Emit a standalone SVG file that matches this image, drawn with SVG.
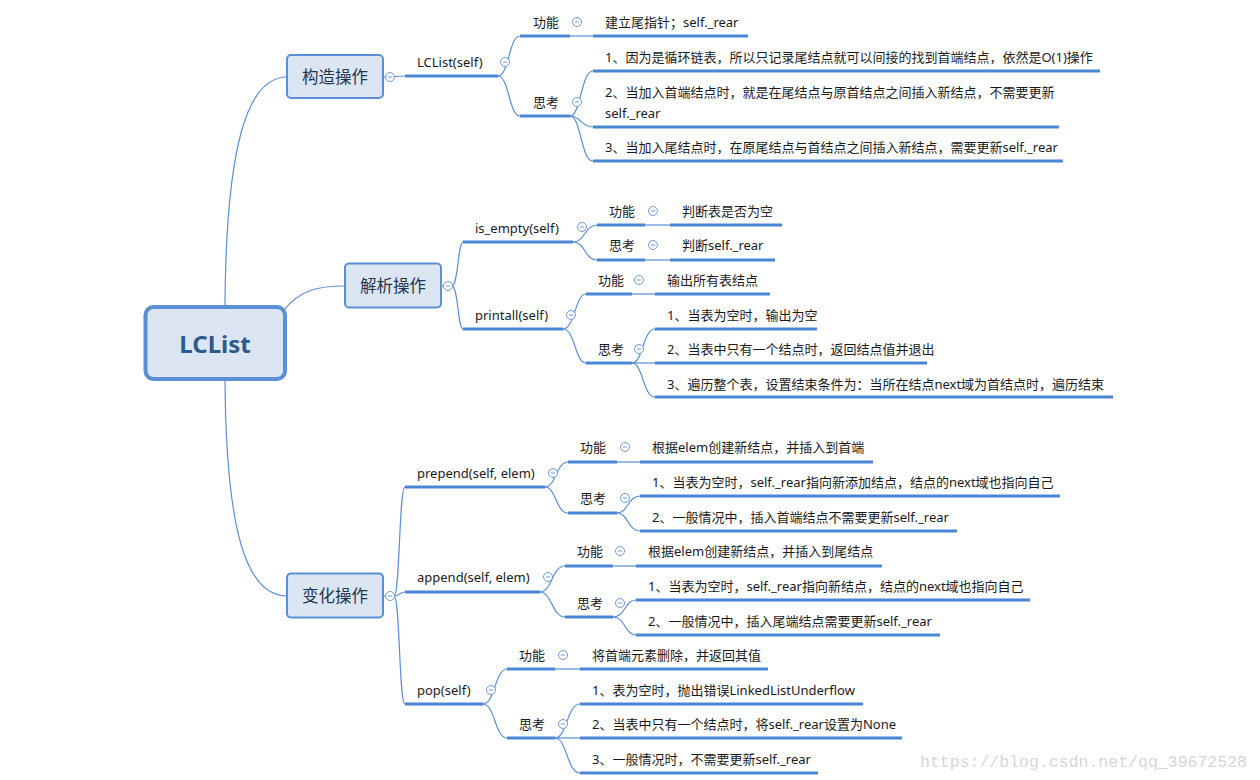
<svg xmlns="http://www.w3.org/2000/svg" width="1260" height="780" viewBox="0 0 1260 780">
<defs>
<style>
.bg{fill:#ffffff}
.c{fill:none;stroke:#5b8fd6;stroke-width:1.2}
.u{stroke:#4a86d4;stroke-width:3;stroke-linecap:butt}
.t{font-family:"Noto Sans","Noto Sans CJK SC",sans-serif;font-size:13px;fill:#1a1a1a;dominant-baseline:central}
.nt{font-family:"Noto Sans","Noto Sans CJK SC",sans-serif;font-size:16.5px;fill:#1e3550;dominant-baseline:central;text-anchor:middle}
.rt{font-family:"Noto Sans","Noto Sans CJK SC",sans-serif;font-size:24px;font-weight:bold;fill:#2d5a8c;dominant-baseline:central;text-anchor:middle}
.node{fill:#dce6f2;stroke:#5b8fd6;stroke-width:2}
.root{fill:#dce6f2;stroke:#5b8fd6;stroke-width:4}
.wm{font-family:"Liberation Mono","DejaVu Sans Mono",monospace;font-size:16px;fill:#d6d6d6}
</style>
<g id="col">
<circle r="4.5" fill="#ffffff" stroke="#6c9ad8" stroke-width="1"/>
<line x1="-2.2" y1="0" x2="2.2" y2="0" stroke="#6c9ad8" stroke-width="1"/>
</g>
</defs>
<rect class="bg" x="0" y="0" width="1260" height="780"/>

<g id="connectors">
<path class="c" d="M225,306 C226,150 246,77 287,77"/>
<path class="c" d="M284,310 C300,290 318,286 345,286"/>
<path class="c" d="M225,380 C226,530 246,596 287,596"/>
<!-- section 1 -->
<path class="c" d="M383,77 L405,76"/>
<path class="c" d="M498,76 C509,76 509,36 520,36"/>
<path class="c" d="M498,76 C509,76 509,116 520,116"/>
<path class="c" d="M570,36 L593,36"/>
<path class="c" d="M570,116 C581,116 581,71 593,71"/>
<path class="c" d="M570,116 C581,116 581,127 593,127"/>
<path class="c" d="M570,116 C581,116 581,161 593,161"/>
<!-- section 2 -->
<path class="c" d="M441,286 L452,286"/>
<path class="c" d="M452,286 C458,286 458,242 463,242"/>
<path class="c" d="M452,286 C458,286 458,329 463,329"/>
<path class="c" d="M573,242 C585,242 585,225 597,225"/>
<path class="c" d="M573,242 C585,242 585,260 597,260"/>
<path class="c" d="M645,225 L670,225"/>
<path class="c" d="M645,260 L670,260"/>
<path class="c" d="M563,329 C575,329 575,294 586,294"/>
<path class="c" d="M563,329 C575,329 575,363 586,363"/>
<path class="c" d="M632,294 L655,294"/>
<path class="c" d="M632,363 C643,363 643,329 655,329"/>
<path class="c" d="M632,363 L655,363"/>
<path class="c" d="M632,363 C643,363 643,397 655,397"/>
<!-- section 3 -->
<path class="c" d="M383,596 L394,596"/>
<path class="c" d="M394,596 C400,596 399,487 405,487"/>
<path class="c" d="M394,596 C400,596 399,592 405,592"/>
<path class="c" d="M394,596 C400,596 399,704 405,704"/>
<path class="c" d="M545,487 C556,487 556,462 568,462"/>
<path class="c" d="M545,487 C556,487 556,513 568,513"/>
<path class="c" d="M617,462 L640,462"/>
<path class="c" d="M617,513 C628,513 628,496 640,496"/>
<path class="c" d="M617,513 C628,513 628,531 640,531"/>
<path class="c" d="M540,592 C552,592 552,566 565,566"/>
<path class="c" d="M540,592 C552,592 552,617 565,617"/>
<path class="c" d="M613,566 L636,566"/>
<path class="c" d="M613,617 C625,617 625,600 636,600"/>
<path class="c" d="M613,617 C625,617 625,635 636,635"/>
<path class="c" d="M483,704 C495,704 495,669 507,669"/>
<path class="c" d="M483,704 C495,704 495,738 507,738"/>
<path class="c" d="M555,669 L580,669"/>
<path class="c" d="M555,738 C567,738 567,704 580,704"/>
<path class="c" d="M555,738 L580,738"/>
<path class="c" d="M555,738 C567,738 567,773 580,773"/>
</g>

<g id="root">
<rect class="root" x="145.5" y="307" width="139.5" height="72" rx="8"/>
<text class="rt" x="215" y="343">LCList</text>
</g>

<g id="n-gouzao">
<rect class="node" x="287" y="55" width="96" height="43" rx="4"/>
<text class="nt" x="335" y="76.5">构造操作</text>
<use href="#col" x="390" y="77"/>
</g>
<g id="n-jiexi">
<rect class="node" x="345" y="263.5" width="96" height="44" rx="4"/>
<text class="nt" x="393" y="285.5">解析操作</text>
<use href="#col" x="448" y="286"/>
</g>
<g id="n-bianhua">
<rect class="node" x="287" y="573.5" width="96" height="44" rx="4"/>
<text class="nt" x="335" y="595.5">变化操作</text>
<use href="#col" x="390" y="596"/>
</g>

<!-- section 1 -->
<g id="n-lclist-self">
<line class="u" x1="405" y1="76" x2="498" y2="76"/>
<text class="t" x="417" y="62">LCList(self)</text>
<use href="#col" x="505" y="62"/>
</g>
<g id="n-s1-gn">
<line class="u" x1="520" y1="36" x2="570" y2="36"/>
<text class="t" x="533" y="22">功能</text>
<use href="#col" x="577" y="22"/>
</g>
<g id="n-s1-gn-1">
<line class="u" x1="593" y1="36" x2="748" y2="36"/>
<text class="t" x="605" y="22">建立尾指针；self._rear</text>
</g>
<g id="n-s1-sk">
<line class="u" x1="520" y1="116" x2="570" y2="116"/>
<text class="t" x="533" y="102">思考</text>
<use href="#col" x="577" y="102"/>
</g>
<g id="n-s1-sk-1">
<line class="u" x1="593" y1="71" x2="1100" y2="71"/>
<text class="t" x="605" y="57">1、因为是循环链表，所以只记录尾结点就可以间接的找到首端结点，依然是O(1)操作</text>
</g>
<g id="n-s1-sk-2">
<line class="u" x1="593" y1="127" x2="1059" y2="127"/>
<text class="t" x="605" y="92">2、当加入首端结点时，就是在尾结点与原首结点之间插入新结点，不需要更新</text>
<text class="t" x="605" y="113">self._rear</text>
</g>
<g id="n-s1-sk-3">
<line class="u" x1="593" y1="161" x2="1063" y2="161"/>
<text class="t" x="605" y="147">3、当加入尾结点时，在原尾结点与首结点之间插入新结点，需要更新self._rear</text>
</g>

<!-- section 2 -->
<g id="n-isempty">
<line class="u" x1="463" y1="242" x2="573" y2="242"/>
<text class="t" x="475" y="228">is_empty(self)</text>
<use href="#col" x="582" y="227"/>
</g>
<g id="n-ie-gn">
<line class="u" x1="597" y1="225" x2="645" y2="225"/>
<text class="t" x="609" y="211">功能</text>
<use href="#col" x="653" y="211"/>
</g>
<g id="n-ie-gn-1">
<line class="u" x1="670" y1="225" x2="782" y2="225"/>
<text class="t" x="682" y="211">判断表是否为空</text>
</g>
<g id="n-ie-sk">
<line class="u" x1="597" y1="260" x2="645" y2="260"/>
<text class="t" x="609" y="245">思考</text>
<use href="#col" x="653" y="245"/>
</g>
<g id="n-ie-sk-1">
<line class="u" x1="670" y1="260" x2="775" y2="260"/>
<text class="t" x="682" y="245">判断self._rear</text>
</g>
<g id="n-printall">
<line class="u" x1="463" y1="329" x2="563" y2="329"/>
<text class="t" x="475" y="315">printall(self)</text>
<use href="#col" x="571" y="315"/>
</g>
<g id="n-pa-gn">
<line class="u" x1="586" y1="294" x2="632" y2="294"/>
<text class="t" x="598" y="280">功能</text>
<use href="#col" x="639" y="280"/>
</g>
<g id="n-pa-gn-1">
<line class="u" x1="655" y1="294" x2="770" y2="294"/>
<text class="t" x="667" y="280">输出所有表结点</text>
</g>
<g id="n-pa-sk">
<line class="u" x1="586" y1="363" x2="632" y2="363"/>
<text class="t" x="598" y="349">思考</text>
<use href="#col" x="639" y="349"/>
</g>
<g id="n-pa-sk-1">
<line class="u" x1="655" y1="329" x2="817" y2="329"/>
<text class="t" x="667" y="315">1、当表为空时，输出为空</text>
</g>
<g id="n-pa-sk-2">
<line class="u" x1="655" y1="363" x2="927" y2="363"/>
<text class="t" x="667" y="349">2、当表中只有一个结点时，返回结点值并退出</text>
</g>
<g id="n-pa-sk-3">
<line class="u" x1="655" y1="397" x2="1113" y2="397"/>
<text class="t" x="667" y="384">3、遍历整个表，设置结束条件为：当所在结点next域为首结点时，遍历结束</text>
</g>

<!-- section 3 -->
<g id="n-prepend">
<line class="u" x1="405" y1="487" x2="545" y2="487"/>
<text class="t" x="417" y="473">prepend(self, elem)</text>
<use href="#col" x="553" y="473"/>
</g>
<g id="n-pp-gn">
<line class="u" x1="568" y1="462" x2="617" y2="462"/>
<text class="t" x="580" y="447">功能</text>
<use href="#col" x="625" y="447"/>
</g>
<g id="n-pp-gn-1">
<line class="u" x1="640" y1="462" x2="873" y2="462"/>
<text class="t" x="652" y="447">根据elem创建新结点，并插入到首端</text>
</g>
<g id="n-pp-sk">
<line class="u" x1="568" y1="513" x2="617" y2="513"/>
<text class="t" x="580" y="498">思考</text>
<use href="#col" x="625" y="498"/>
</g>
<g id="n-pp-sk-1">
<line class="u" x1="640" y1="496" x2="1060" y2="496"/>
<text class="t" x="652" y="482">1、当表为空时，self._rear指向新添加结点，结点的next域也指向自己</text>
</g>
<g id="n-pp-sk-2">
<line class="u" x1="640" y1="531" x2="957" y2="531"/>
<text class="t" x="652" y="517">2、一般情况中，插入首端结点不需要更新self._rear</text>
</g>
<g id="n-append">
<line class="u" x1="405" y1="592" x2="540" y2="592"/>
<text class="t" x="417" y="577">append(self, elem)</text>
<use href="#col" x="548" y="577"/>
</g>
<g id="n-ap-gn">
<line class="u" x1="565" y1="566" x2="613" y2="566"/>
<text class="t" x="577" y="551">功能</text>
<use href="#col" x="620" y="551"/>
</g>
<g id="n-ap-gn-1">
<line class="u" x1="636" y1="566" x2="882" y2="566"/>
<text class="t" x="648" y="551">根据elem创建新结点，并插入到尾结点</text>
</g>
<g id="n-ap-sk">
<line class="u" x1="565" y1="617" x2="613" y2="617"/>
<text class="t" x="577" y="603">思考</text>
<use href="#col" x="620" y="603"/>
</g>
<g id="n-ap-sk-1">
<line class="u" x1="636" y1="600" x2="1030" y2="600"/>
<text class="t" x="648" y="586">1、当表为空时，self._rear指向新结点，结点的next域也指向自己</text>
</g>
<g id="n-ap-sk-2">
<line class="u" x1="636" y1="635" x2="940" y2="635"/>
<text class="t" x="648" y="621">2、一般情况中，插入尾端结点需要更新self._rear</text>
</g>
<g id="n-pop">
<line class="u" x1="405" y1="704" x2="483" y2="704"/>
<text class="t" x="417" y="690">pop(self)</text>
<use href="#col" x="491" y="690"/>
</g>
<g id="n-pop-gn">
<line class="u" x1="507" y1="669" x2="555" y2="669"/>
<text class="t" x="519" y="655">功能</text>
<use href="#col" x="563" y="655"/>
</g>
<g id="n-pop-gn-1">
<line class="u" x1="580" y1="669" x2="768" y2="669"/>
<text class="t" x="592" y="655">将首端元素删除，并返回其值</text>
</g>
<g id="n-pop-sk">
<line class="u" x1="507" y1="738" x2="555" y2="738"/>
<text class="t" x="519" y="724">思考</text>
<use href="#col" x="563" y="724"/>
</g>
<g id="n-pop-sk-1">
<line class="u" x1="580" y1="704" x2="863" y2="704"/>
<text class="t" x="592" y="690">1、表为空时，抛出错误LinkedListUnderflow</text>
</g>
<g id="n-pop-sk-2">
<line class="u" x1="580" y1="738" x2="902" y2="738"/>
<text class="t" x="592" y="724">2、当表中只有一个结点时，将self._rear设置为None</text>
</g>
<g id="n-pop-sk-3">
<line class="u" x1="580" y1="773" x2="818" y2="773"/>
<text class="t" x="592" y="759">3、一般情况时，不需要更新self._rear</text>
</g>

<text class="wm" x="920" y="767" textLength="327" lengthAdjust="spacingAndGlyphs">https://blog.csdn.net/qq_39672528</text>
</svg>
